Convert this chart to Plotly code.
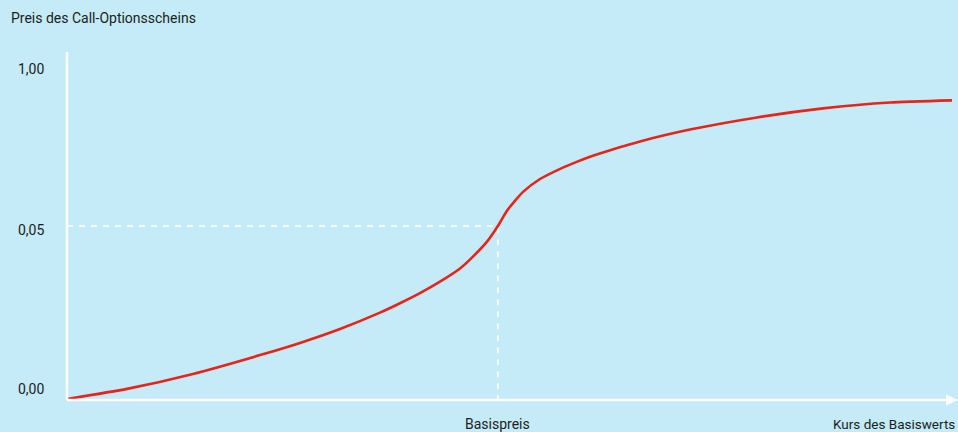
import plotly.graph_objects as go

# Kurs des Basiswerts (arbitrary units, Basispreis = 50)
kurs = [0, 6.96, 14.62, 22.40, 27.04, 31.68, 36.32, 38.64, 40.96, 43.28, 45.61, 47.11, 48.74, 50.0,
        51.06, 52.92, 54.89, 56.86, 58.72, 60.69, 62.66, 64.52, 66.49, 72.30, 80.07, 87.73, 95.51, 102.7]
# Preis des Call-Optionsscheins (normalised)
preis = [0.003, 0.032, 0.075, 0.129, 0.164, 0.204, 0.251, 0.278, 0.307, 0.340, 0.378, 0.412, 0.455, 0.5,
         0.544, 0.598, 0.635, 0.660, 0.680, 0.699, 0.715, 0.729, 0.743, 0.777, 0.812, 0.838, 0.855, 0.861]

basispreis = 50
preis_basis = 0.5
x_max = 102.7
y_max = 1.0

y_tick_pos = [0.951, 0.489, 0.032]
y_tick_text = ["1,00", "0,05", "0,00"]

title_text = "Preis des Call-Optionsscheins"
x_label_basis = "Basispreis"
x_label_axis = "Kurs des Basiswerts"

BG = "#c5eaf8"
RED = "#e52519"
TXT = "#1a1f22"
FONT = "Roboto"
FS = 14

fig = go.Figure()

# dashed guide lines
fig.add_trace(go.Scatter(x=[0, basispreis, basispreis], y=[preis_basis, preis_basis, 0],
                         mode="lines", line=dict(color="white", width=1.5, dash="6px,6px"),
                         hoverinfo="skip", showlegend=False))

fig.add_trace(go.Scatter(x=kurs, y=preis, mode="lines",
                         line=dict(color=RED, width=2.6, shape="spline", smoothing=0.55),
                         showlegend=False, cliponaxis=False))

W, H = 958, 432
ml, mr, mt, mb = 67, 6, 52, 32
pw = W - ml - mr
ph = H - mt - mb

def px2paper_x(px):
    return (px - ml) / pw

def px2paper_y(py):
    return (H - mb - py) / ph

shapes = [
    # y axis
    dict(type="line", xref="paper", yref="paper", x0=0, x1=0, y0=0, y1=1,
         line=dict(color="white", width=2.5), layer="above"),
    # x axis
    dict(type="line", xref="paper", yref="paper", x0=0, x1=px2paper_x(950), y0=0, y1=0,
         line=dict(color="white", width=2.5), layer="above"),
    # arrow head
    dict(type="path", xref="paper", yref="paper",
         path=f"M {px2paper_x(946)} {px2paper_y(394.5)} L {px2paper_x(958)} {px2paper_y(400)} L {px2paper_x(946)} {px2paper_y(405.5)} Z",
         fillcolor="white", line=dict(color="white", width=0), layer="above"),
]

annotations = [
    dict(text=title_text, xref="paper", yref="paper", x=px2paper_x(9), y=px2paper_y(18),
         xanchor="left", yanchor="middle", showarrow=False, font=dict(size=FS, color=TXT, family=FONT)),
    dict(text=x_label_basis, xref="x", yref="paper", x=basispreis, y=px2paper_y(424),
         xanchor="center", yanchor="middle", showarrow=False, font=dict(size=FS, color=TXT, family=FONT)),
    dict(text=x_label_axis, xref="paper", yref="paper", x=px2paper_x(957), y=px2paper_y(424),
         xanchor="right", yanchor="middle", showarrow=False, font=dict(size=13.5, color=TXT, family=FONT)),
]
for v, t in zip(y_tick_pos, y_tick_text):
    annotations.append(dict(text=t, xref="paper", yref="y", x=px2paper_x(46), y=v,
                            xanchor="right", yanchor="middle", showarrow=False,
                            font=dict(size=FS, color=TXT, family=FONT)))

fig.update_layout(
    width=W, height=H,
    margin=dict(l=ml, r=mr, t=mt, b=mb),
    paper_bgcolor=BG, plot_bgcolor=BG,
    xaxis=dict(range=[0, x_max], visible=False, fixedrange=True),
    yaxis=dict(range=[0, y_max], visible=False, fixedrange=True),
    shapes=shapes, annotations=annotations,
    font=dict(family=FONT),
)

fig.write_html("out.html", config={"displayModeBar": False})
